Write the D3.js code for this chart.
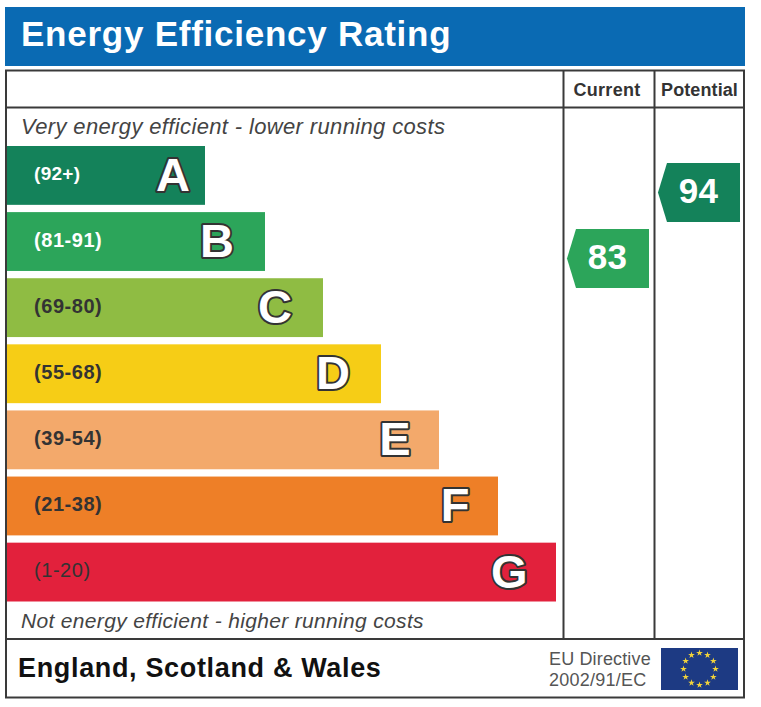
<!DOCTYPE html>
<html><head><meta charset="utf-8">
<script src="https://cdn.jsdelivr.net/npm/d3@7/dist/d3.min.js"></script>
<style>html,body{margin:0;padding:0;background:#fff}svg{display:block}text{font-family:"Liberation Sans",Arial,sans-serif}</style>
</head><body><svg id="c" width="761" height="707"></svg>
<script>
const bands = ["A","B","C","D","E","F","G"];
const ranges = ["(92+)","(81-91)","(69-80)","(55-68)","(39-54)","(21-38)","(1-20)"];
const barLengths = [198,258,316,374,432,491,549];
const barColors = ["#14825a","#2ca55a","#8fbc43","#f6cd16","#f3a96b","#ee7f27","#e2213c"];
const rangeColors = ["#fff","#fff","#333","#333","#333","#333","#333"];
const ratings = [{label:"Current",score:83,color:"#2ca55a"},{label:"Potential",score:94,color:"#14825a"}];
const starIndex = d3.range(12);

const svg = d3.select("#c");
const x = d3.scaleLinear().domain([0,549]).range([7,556]);
const y = d3.scaleBand().domain(bands).range([146,601.5]).paddingInner(0.11);
const scoreY = d3.scaleLinear().domain([94,83]).range([192.5,258.5]);
const columnX = d3.scaleBand().domain(ratings.map(d=>d.label)).range([563,745]);
const line = "#3a3a3a";

svg.append("rect").attr("x",5).attr("y",7).attr("width",740).attr("height",59).attr("fill","#0a6ab3");
svg.append("text").attr("x",21).attr("y",45.5).attr("fill","#fff").attr("font-weight",700).attr("font-size",35)
  .attr("letter-spacing",0.75).text("Energy Efficiency Rating");

svg.append("text").attr("x",21).attr("y",134).attr("fill","#444").attr("font-style","italic").attr("font-size",22)
  .attr("letter-spacing",0.36).text("Very energy efficient - lower running costs");
svg.append("text").attr("x",21).attr("y",628).attr("fill","#444").attr("font-style","italic").attr("font-size",21)
  .attr("letter-spacing",0.33).text("Not energy efficient - higher running costs");

const rows = svg.selectAll("g.band").data(bands).join("g").attr("class","band");
rows.append("rect").attr("x",x(0)).attr("y",d=>y(d)).attr("height",y.bandwidth())
  .attr("width",(d,i)=>x(barLengths[i])-x(0)).attr("fill",(d,i)=>barColors[i]);
rows.append("text").attr("x",34).attr("y",d=>y(d)+y.bandwidth()/2+5).attr("font-size",(d,i)=>i==0?19:20).attr("font-weight",(d,i)=>i==6?400:700)
  .attr("letter-spacing",(d,i)=>i==0?0.3:0.55).attr("fill",(d,i)=>rangeColors[i]).text((d,i)=>ranges[i]);
rows.append("text").attr("x",(d,i)=>x(barLengths[i])-(i==0?15:i<4?31:28.5)).attr("y",d=>y(d)+y.bandwidth()/2+15.5)
  .attr("text-anchor","end").attr("font-size",47).attr("font-weight",700).attr("fill","#fff")
  .attr("stroke","#333").attr("stroke-width",4).attr("paint-order","stroke").attr("stroke-linejoin","round").text(d=>d);

// Frame
const rule = (x1,y1,x2,y2)=>svg.append("line").attr("x1",x1).attr("y1",y1).attr("x2",x2).attr("y2",y2).attr("stroke",line).attr("stroke-width",2);
svg.append("rect").attr("x",6).attr("y",70.5).attr("width",738).attr("height",627).attr("fill","none").attr("stroke",line).attr("stroke-width",2);
rule(6,107.5,744,107.5); rule(6,639,744,639); rule(563.5,70,563.5,639); rule(654.5,70,654.5,639);

// Column heads and badges
const cols = svg.selectAll("g.rating").data(ratings).join("g").attr("class","rating");
cols.append("text").attr("x",d=>columnX(d.label)+columnX.bandwidth()/2+(d.label=="Current"?-1.5:0)).attr("y",95.5)
  .attr("text-anchor","middle").attr("font-weight",700).attr("font-size",18).attr("letter-spacing",d=>d.label=="Current"?0.3:0.1).attr("fill","#333").text(d=>d.label);
cols.append("path").attr("fill",d=>d.color).attr("d",d=>{
  const l=columnX(d.label)+4, r=columnX(d.label)+86, c=scoreY(d.score);
  return d3.line()([[l,c],[l+9,c-29.5],[r,c-29.5],[r,c+29.5],[l+9,c+29.5]])+"Z";
});
cols.append("text").attr("x",d=>columnX(d.label)+44.5).attr("y",d=>scoreY(d.score)+10.5).attr("text-anchor","middle")
  .attr("font-weight",700).attr("font-size",35).attr("letter-spacing",0.2).attr("fill","#fff").text(d=>d.score);

// Footer
svg.append("text").attr("x",18).attr("y",677).attr("font-weight",700).attr("font-size",27).attr("letter-spacing",0.66).attr("fill","#111").text("England, Scotland & Wales");
svg.append("text").attr("x",549).attr("y",665).attr("font-size",18).attr("letter-spacing",0.15).attr("fill","#555").text("EU Directive");
svg.append("text").attr("x",549).attr("y",686).attr("font-size",18).attr("letter-spacing",0.25).attr("fill","#555").text("2002/91/EC");
svg.append("rect").attr("x",661).attr("y",648).attr("width",77).attr("height",42).attr("fill","#1d3a83");
const starAngle = d3.scaleLinear().domain([0,12]).range([0,2*Math.PI]);
svg.selectAll("path.star").data(starIndex).join("path").attr("class","star")
  .attr("d",d3.symbol(d3.symbolStar,14)).attr("fill","#f2d33a")
  .attr("transform",d=>`translate(${699.5+16*Math.sin(starAngle(d))},${669-16*Math.cos(starAngle(d))})`);
</script></body></html>
